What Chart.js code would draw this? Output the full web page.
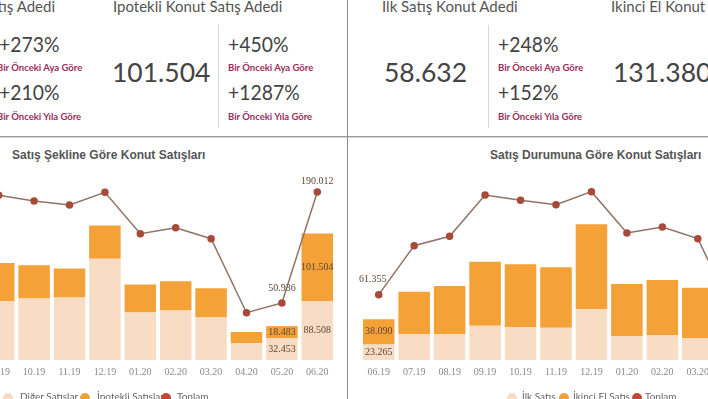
<!DOCTYPE html>
<html>
<head>
<meta charset="utf-8">
<title>Konut Satışları</title>
<script src="https://cdn.jsdelivr.net/npm/chart.js@4.4.0/dist/chart.umd.min.js"></script>
<style>
  html, body { margin: 0; padding: 0; background: #fff; }
  #page { position: relative; width: 708px; height: 399px; overflow: hidden; font-family: Lato, sans-serif; }
  .t { position: absolute; white-space: nowrap; line-height: 1; }
  .head { font-size: 15px; color: #555; }
  .pct { font-size: 22px; color: #444; transform: scaleX(0.88); transform-origin: left center; }
  .big { font-size: 26.5px; color: #444; }
  .sub { font-size: 9.5px; color: #9b2d5c; font-weight: bold; }
  .vsep { position: absolute; width: 1px; background: #cfd8de; top: 25px; height: 103px; }
  .ctitle { font-family: "Liberation Sans", Arial, sans-serif; font-weight: bold; font-size: 12px; color: #555; }
  .leg { font-size: 10px; color: #666; }
  .dot { position: absolute; width: 10px; height: 10px; border-radius: 50%; top: 393px; }
  canvas { position: absolute; }
</style>
</head>
<body>
<div id="page">
  <!-- top figures, left half -->
  <div class="t head" style="right:653px; top:-1px">Toplam Konut Satış Adedi</div>
  <div class="t pct" style="left:-1px; top:33px">+273%</div>
  <div class="t sub" style="left:-3px; top:62.5px">Bir Önceki Aya Göre</div>
  <div class="t pct" style="left:-1px; top:81px">+210%</div>
  <div class="t sub" style="left:-3px; top:112px">Bir Önceki Yıla Göre</div>

  <div class="t head" style="left:113px; top:-1px">İpotekli Konut Satış Adedi</div>
  <div class="t big" style="left:112px; top:59px">101.504</div>
  <div class="vsep" style="left:218px"></div>
  <div class="t pct" style="left:228px; top:33px">+450%</div>
  <div class="t sub" style="left:228px; top:62.5px">Bir Önceki Aya Göre</div>
  <div class="t pct" style="left:228px; top:81px">+1287%</div>
  <div class="t sub" style="left:228px; top:112px">Bir Önceki Yıla Göre</div>

  <!-- top figures, right half -->
  <div class="t head" style="left:382px; top:-1px">İlk Satış Konut Adedi</div>
  <div class="t big" style="left:384px; top:59px">58.632</div>
  <div class="vsep" style="left:488px"></div>
  <div class="t pct" style="left:498px; top:33px">+248%</div>
  <div class="t sub" style="left:498px; top:62.5px">Bir Önceki Aya Göre</div>
  <div class="t pct" style="left:498px; top:81px">+152%</div>
  <div class="t sub" style="left:498px; top:112px">Bir Önceki Yıla Göre</div>

  <div class="t head" style="left:611px; top:-1px">İkinci El Konut Satış Adedi</div>
  <div class="t big" style="left:613px; top:59px">131.380</div>

  <!-- chart titles -->
  <div class="t ctitle" style="left:12px; top:149px">Satış Şekline Göre Konut Satışları</div>
  <div class="t ctitle" style="left:490px; top:149px">Satış Durumuna Göre Konut Satışları</div>

  <canvas id="leftChart" width="354" height="215" style="left:-19px; top:165px"></canvas>
  <canvas id="rightChart" width="410" height="215" style="left:341px; top:165px"></canvas>

  <!-- panel borders -->
  <div style="position:absolute; left:0; top:136px; width:708px; height:1px; background:#9a9a9a"></div>
  <div style="position:absolute; left:0; top:137px; width:708px; height:1px; background:#d6d6d6"></div>
  <div style="position:absolute; left:347px; top:0; width:1px; height:399px; background:#8c8c8c"></div>

  <!-- legends -->
  <div class="dot" style="left:3px; background:#f9dcc4"></div>
  <div class="t leg" style="left:20px; top:391px">Diğer Satışlar</div>
  <div class="dot" style="left:80px; background:#f0a23a"></div>
  <div class="t leg" style="left:97px; top:391px">İpotekli Satışlar</div>
  <div class="dot" style="left:161px; background:#bf4a36"></div>
  <div class="t leg" style="left:177px; top:391px">Toplam</div>

  <div class="dot" style="left:507px; background:#f9dcc4"></div>
  <div class="t leg" style="left:522px; top:391px">İlk Satış</div>
  <div class="dot" style="left:559px; background:#f0a23a"></div>
  <div class="t leg" style="left:573px; top:391px">İkinci El Satış</div>
  <div class="dot" style="left:632px; background:#bf4a36"></div>
  <div class="t leg" style="left:645px; top:391px">Toplam</div>
</div>

<script>
// Satış şekline göre (sol grafik)
const leftMonths = ['09.19', '10.19', '11.19', '12.19', '01.20', '02.20', '03.20', '04.20', '05.20', '06.20']
const digerSatis = [88300, 92400, 93900, 152200, 71400, 74400, 63900, 25000, 32453, 88508]
const ipotekliSatis = [57300, 49900, 43400, 49900, 41900, 43900, 43900, 16900, 18483, 101504]
const toplamSekil = [186000, 178700, 173700, 189600, 137700, 145200, 131500, 38700, 50936, 190012]

// Satış durumuna göre (sağ grafik)
const rightMonths = ['06.19', '07.19', '08.19', '09.19', '10.19', '11.19', '12.19', '01.20', '02.20', '03.20', '04.20']
const ilkSatis = [23265, 39100, 39100, 51600, 49200, 48600, 76200, 36100, 37100, 33100, null]
const ikinciElSatis = [38090, 63600, 72200, 96200, 94700, 90800, 127800, 78200, 83200, 75600, null]
const toplamDurum = [61355, 122700, 134500, 186200, 179600, 174100, 190400, 138600, 146100, 131500, 38700]

const fmt = v => String(v).replace(/\B(?=(\d{3})+(?!\d))/g, '.')

// value labels on chosen bars / points
const valueLabels = {
    id: 'valueLabels',
    afterDatasetsDraw(chart, args, opts) {
        const ctx = chart.ctx
        ctx.save()
        ctx.font = '10px "Liberation Serif", serif'
        ctx.fillStyle = '#5e4636'
        ctx.textAlign = 'center'
        ctx.textBaseline = 'middle'
        opts.marks.forEach(m => {
            const el = chart.getDatasetMeta(m.ds).data[m.i]
            const v = chart.data.datasets[m.ds].data[m.i]
            const y = el.base !== undefined ? (el.y + el.base) / 2 : el.y
            ctx.fillText(fmt(v), el.x + (m.dx || 0), y + (m.dy || 0))
        })
        ctx.restore()
    },
}

function makeChart(id, labels, lower, upper, total, marks, padLeft) {
    return new Chart(document.getElementById(id), {
        type: 'bar',
        data: {
            labels,
            datasets: [
                {
                    type: 'line',
                    data: total,
                    yAxisID: 'y1',
                    order: 0,
                    borderColor: '#8f7366',
                    borderWidth: 1.5,
                    pointRadius: 3,
                    pointBackgroundColor: '#a84a3a',
                    pointBorderColor: '#a84a3a',
                    tension: 0,
                },
                { data: lower, backgroundColor: '#f9dcc4', order: 1 },
                { data: upper, backgroundColor: '#f4a137', order: 1 },
            ],
        },
        options: {
            responsive: false,
            animation: false,
            layout: { padding: { left: padLeft, right: 0, top: 0, bottom: 0 }, autoPadding: false },
            datasets: { bar: { barPercentage: 0.89, categoryPercentage: 1 } },
            plugins: {
                legend: { display: false },
                tooltip: { enabled: false },
                valueLabels: { marks },
            },
            scales: {
                x: {
                    stacked: true,
                    grid: { display: false, drawTicks: false },
                    border: { display: false },
                    ticks: {
                        padding: 6,
                        color: '#8a8a8a',
                        autoSkip: false,
                        maxRotation: 0,
                        font: { family: '"Liberation Serif", serif', size: 10 },
                    },
                    afterFit(s) { s.height = 20 },
                },
                y: { stacked: true, display: false, min: 0, max: 293000 },
                y1: { display: false, min: -20550, max: 223800 },
            },
        },
        plugins: [valueLabels],
    })
}

makeChart('leftChart', leftMonths, digerSatis, ipotekliSatis, toplamSekil, [
    { ds: 0, i: 9, dy: -11 },
    { ds: 0, i: 8, dy: -15 },
    { ds: 2, i: 9 },
    { ds: 1, i: 9 },
    { ds: 2, i: 8 },
    { ds: 1, i: 8 },
], 0)

makeChart('rightChart', rightMonths, ilkSatis, ikinciElSatis, toplamDurum, [
    { ds: 0, i: 0, dx: -6, dy: -15 },
    { ds: 2, i: 0 },
    { ds: 1, i: 0 },
], 20)
</script>
</body>
</html>
